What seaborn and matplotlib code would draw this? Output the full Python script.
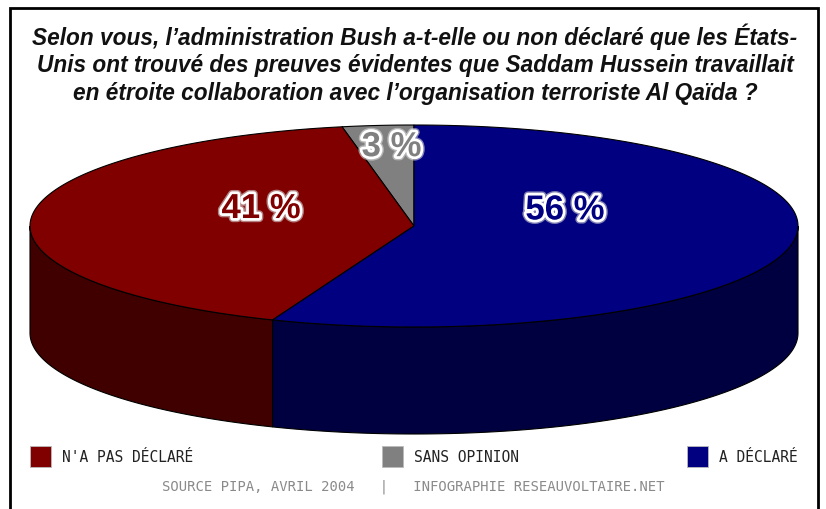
import numpy as np
import matplotlib
matplotlib.use("Agg")
import matplotlib.pyplot as plt
import matplotlib.patheffects as pe
from matplotlib.patches import Polygon, Rectangle
import seaborn as sns

# Survey answers (percent)
categories = ["N'A PAS DÉCLARÉ", "SANS OPINION", "A DÉCLARÉ"]
values = [41, 3, 56]
top_colors = ["#800000", "#808080", "#000080"]
side_colors = ["#400000", "#404040", "#000040"]

title = ("Selon vous, l\u2019administration Bush a-t-elle ou non déclaré que les États-\n"
         "Unis ont trouvé des preuves évidentes que Saddam Hussein travaillait\n"
         "en étroite collaboration avec l\u2019organisation terroriste Al Qaïda ?")
source = "SOURCE PIPA, AVRIL 2004   |   INFOGRAPHIE RESEAUVOLTAIRE.NET"

sns.set_style("white")
plt.rcParams["font.family"] = ["Liberation Sans", "DejaVu Sans"]

W, H = 826, 510
fig = plt.figure(figsize=(W / 100, H / 100), dpi=100)
ax = fig.add_axes([0, 0, 1, 1])
ax.set_xlim(0, W)
ax.set_ylim(H, 0)
ax.axis("off")

# frame (open at the bottom)
ax.plot([10, 10, 818, 818], [H + 5, 9, 9, H + 5], color="black", lw=2, solid_joinstyle="miter")

ax.text(415, 64, title, ha="center", va="center", fontsize=16.3, fontweight="bold",
        fontstyle="italic", color="#111111", linespacing=1.25)

# 3-D pie geometry (pixels)
cx, cy, a, b, depth = 414, 227, 384, 101, 107


def rim(t1, t2, n=200):
    t = np.radians(np.linspace(t1, t2, n))
    return cx + a * np.cos(t), cy - b * np.sin(t)


# slices laid counter-clockwise from twelve o'clock
order = [1, 0, 2]
total = float(sum(values))
start = 90.0
spans = {}
for i in order:
    end = start + values[i] / total * 360.0
    spans[i] = (start, end)
    start = end

# front walls
for i in order:
    t1, t2 = spans[i]
    for lo, hi in [(180, 360), (540, 720)]:
        s, e = max(t1, lo), min(t2, hi)
        if e > s:
            x, y = rim(s, e)
            pts = np.column_stack([np.r_[x, x[::-1]], np.r_[y, (y + depth)[::-1]]])
            ax.add_patch(Polygon(pts, closed=True, facecolor=side_colors[i],
                                 edgecolor="black", lw=0.8, zorder=2))

# top faces
for i in order:
    t1, t2 = spans[i]
    x, y = rim(t1, t2)
    pts = np.column_stack([np.r_[cx, x], np.r_[cy, y]])
    ax.add_patch(Polygon(pts, closed=True, facecolor=top_colors[i],
                         edgecolor="black", lw=0.8, zorder=3))

# percentage labels
for i in order:
    t1, t2 = spans[i]
    mid = np.radians((t1 + t2) / 2)
    small = values[i] < 10
    rx, ry = (0.62, 0.62) if small else (0.40, 0.05)
    lx = cx + a * rx * np.cos(mid)
    ly = cy - b * ry * np.sin(mid) - 17
    ax.text(lx, ly, f"{values[i]} %", ha="center", va="center", fontsize=25,
            fontweight="bold", color=top_colors[i], zorder=5,
            path_effects=[pe.Stroke(linewidth=6, foreground="#d8d8d8", alpha=0.6),
                          pe.Stroke(linewidth=4, foreground="white"), pe.Normal()])

# legend
legend_x = [30, 382, 687]
for i, lx in enumerate(legend_x):
    ax.add_patch(Rectangle((lx, 447), 21, 21, facecolor=top_colors[i],
                           edgecolor="#bbbbbb", lw=0.6, zorder=3))
    ax.text(lx + 32, 458, categories[i], ha="left", va="center", fontsize=10.5,
            family="DejaVu Sans Mono", color="#222222")

ax.text(413, 487, source, ha="center", va="center", fontsize=10,
        family="DejaVu Sans Mono", color="#8a8a8a")

fig.savefig("out.png", dpi=100)
